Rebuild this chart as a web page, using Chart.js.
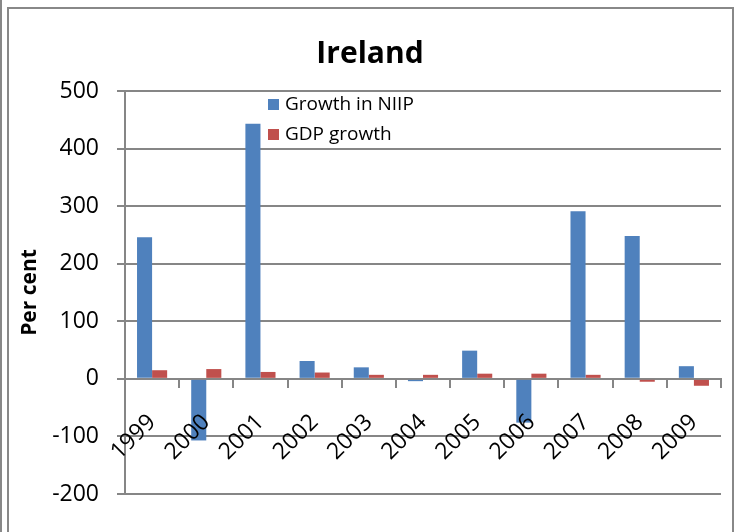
<!DOCTYPE html>
<html>
<head>
<meta charset="utf-8">
<script src="https://cdn.jsdelivr.net/npm/chart.js@4.4.1/dist/chart.umd.min.js"></script>
<style>
  html, body { margin: 0; padding: 0; background: #fff; }
  #wrap { width: 740px; height: 532px; }
</style>
</head>
<body>
<div id="wrap"><canvas id="chart" width="740" height="532"></canvas></div>
<script>
const years = ['1999', '2000', '2001', '2002', '2003', '2004', '2005', '2006', '2007', '2008', '2009'];
const niipGrowth = [246, -107, 443, 31, 20, -4, 49, -76, 291, 248, 22];
const gdpGrowth = [15, 17, 12, 11, 7, 7, 9, 9, 7, -5, -12];
const yTicks = [-200, -100, 0, 100, 200, 300, 400, 500];

const font = "'Open Sans', sans-serif";

// frame around the whole chart, like the Excel chart border
const framePlugin = {
  id: 'frame',
  afterDraw(chart) {
    const ctx = chart.ctx;
    ctx.save();
    ctx.strokeStyle = '#888';
    ctx.lineWidth = 2;
    ctx.strokeRect(8, 8, 725, 540);
    ctx.beginPath();
    ctx.moveTo(1, 0);
    ctx.lineTo(1, 532);
    ctx.stroke();
    ctx.restore();
  }
};

// legend placed inside the plot area, stacked vertically
const innerLegend = {
  id: 'innerLegend',
  afterDraw(chart) {
    const ctx = chart.ctx;
    ctx.save();
    ctx.font = '19px ' + font;
    ctx.textBaseline = 'middle';
    chart.data.datasets.forEach((ds, i) => {
      const y = 104 + i * 30;
      ctx.fillStyle = ds.backgroundColor;
      ctx.fillRect(268, y - 5, 11, 11);
      ctx.fillStyle = '#000';
      ctx.fillText(ds.label, 285, y + 1);
    });
    ctx.restore();
  }
};

new Chart(document.getElementById('chart'), {
  type: 'bar',
  data: {
    labels: years,
    datasets: [
      { label: 'Growth in NIIP', data: niipGrowth, backgroundColor: '#4F81BD' },
      { label: 'GDP growth', data: gdpGrowth, backgroundColor: '#C0504D' }
    ]
  },
  options: {
    responsive: false,
    animation: false,
    layout: { padding: { left: 3, right: 3, top: 10, bottom: 38 } },
    categoryPercentage: 0.556,
    barPercentage: 1,
    plugins: {
      legend: { display: false },
      tooltip: { enabled: false },
      title: {
        display: true,
        text: 'Ireland',
        color: '#000',
        font: { family: font, size: 30, weight: 'bold' },
        padding: { top: 26, bottom: 19 }
      }
    },
    scales: {
      x: {
        position: { y: 0 },
        afterFit(scale) {
          scale.paddingLeft = 0;
          scale.paddingRight = 19;
        },
        grid: { drawOnChartArea: false, drawTicks: true, tickLength: 8, color: '#868686', lineWidth: 2 },
        border: { color: '#868686', width: 2 },
        ticks: {
          z: 1,
          color: '#000',
          font: { family: font, size: 23 },
          maxRotation: 45,
          minRotation: 45,
          padding: 22
        }
      },
      y: {
        min: -200,
        max: 500,
        afterBuildTicks(scale) {
          scale.ticks = yTicks.map(v => ({ value: v }));
        },
        afterFit(scale) {
          scale.width = 122;
        },
        grid: { color: '#868686', lineWidth: 2, tickLength: 8 },
        border: { color: '#868686', width: 2 },
        ticks: {
          color: '#000',
          font: { family: font, size: 23 },
          padding: 18
        },
        title: {
          display: true,
          text: 'Per cent',
          color: '#000',
          font: { family: font, size: 21, weight: 'bold' },
          padding: { top: 14, bottom: 0 }
        }
      }
    }
  },
  plugins: [framePlugin, innerLegend]
});
</script>
</body>
</html>
